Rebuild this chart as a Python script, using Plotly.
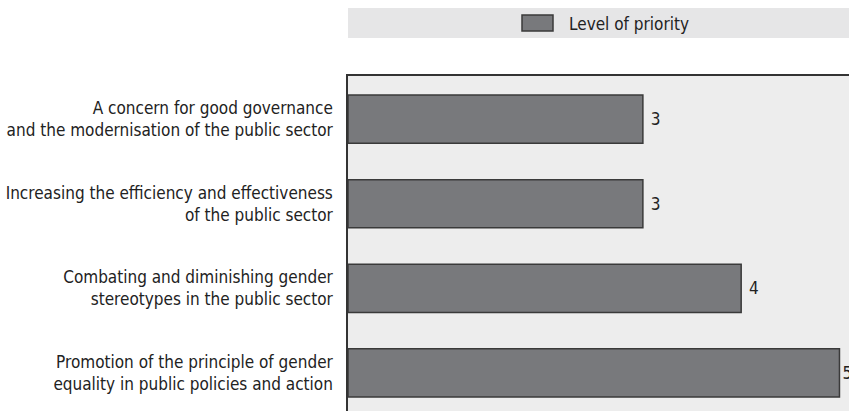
import plotly.graph_objects as go

categories = [
    "A concern for good governance<br>and the modernisation of the public sector",
    "Increasing the efficiency and effectiveness<br>of the public sector",
    "Combating and diminishing gender<br>stereotypes in the public sector",
    "Promotion of the principle of gender<br>equality in public policies and action",
]
values = [3, 3, 4, 5]
series_name = "Level of priority"

FONT = "DejaVu Sans Condensed, Liberation Sans Narrow, sans-serif"
FS = 17
BAR = "#78797c"
EDGE = "#3a3a3a"

# the longest bar's label sits tight against the bar, as in the original
templates = [" %{text}" if v < max(values) else "%{text}" for v in values]

fig = go.Figure()
fig.add_trace(go.Bar(
    y=categories, x=values, orientation="h", name=series_name,
    marker=dict(color=BAR, line=dict(color=EDGE, width=1.5)),
    width=0.57,
    text=[str(v) for v in values], texttemplate=templates,
    textposition="outside", cliponaxis=False,
    textfont=dict(family=FONT, size=FS, color="#222"),
    showlegend=False,
))

# legend drawn as a band with a swatch and label
fig.add_shape(type="rect", xref="paper", yref="paper", x0=0, x1=1.0,
              y0=(411 - 38) / 335, y1=(411 - 8) / 335,
              fillcolor="#e6e6e7", line=dict(width=0), layer="below")
fig.add_shape(type="rect", xref="paper", yref="paper",
              x0=(522 - 348) / 501, x1=(553 - 348) / 501,
              y0=(411 - 31) / 335, y1=(411 - 15) / 335,
              fillcolor=BAR, line=dict(color=EDGE, width=1.5))
fig.add_annotation(xref="paper", yref="paper", x=(567 - 348) / 501, y=(411 - 23.5) / 335,
                   text=series_name, showarrow=False, xanchor="left", yanchor="middle",
                   font=dict(family=FONT, size=FS, color="#222"))

fig.update_layout(
    width=849, height=411, autosize=False,
    margin=dict(l=348, r=0, t=76, b=0),
    paper_bgcolor="white", plot_bgcolor="#ededed",
    font=dict(family=FONT, size=FS, color="#222"),
    xaxis=dict(range=[0, 5.097], showgrid=False, zeroline=False, showticklabels=False,
               ticks="", showline=True, mirror=False, side="top",
               linecolor="#333", linewidth=1.5, fixedrange=True),
    yaxis=dict(range=[3.45, -0.51], showgrid=False, zeroline=False,
               showline=True, linecolor="#333", linewidth=1.5, ticks="",
               ticklabelstandoff=10, tickfont=dict(family=FONT, size=FS, color="#222")),
)
fig.write_html("out.html", config={"responsive": False, "displayModeBar": False},
               post_script="document.body.style.margin='0';document.body.style.overflow='hidden';")
